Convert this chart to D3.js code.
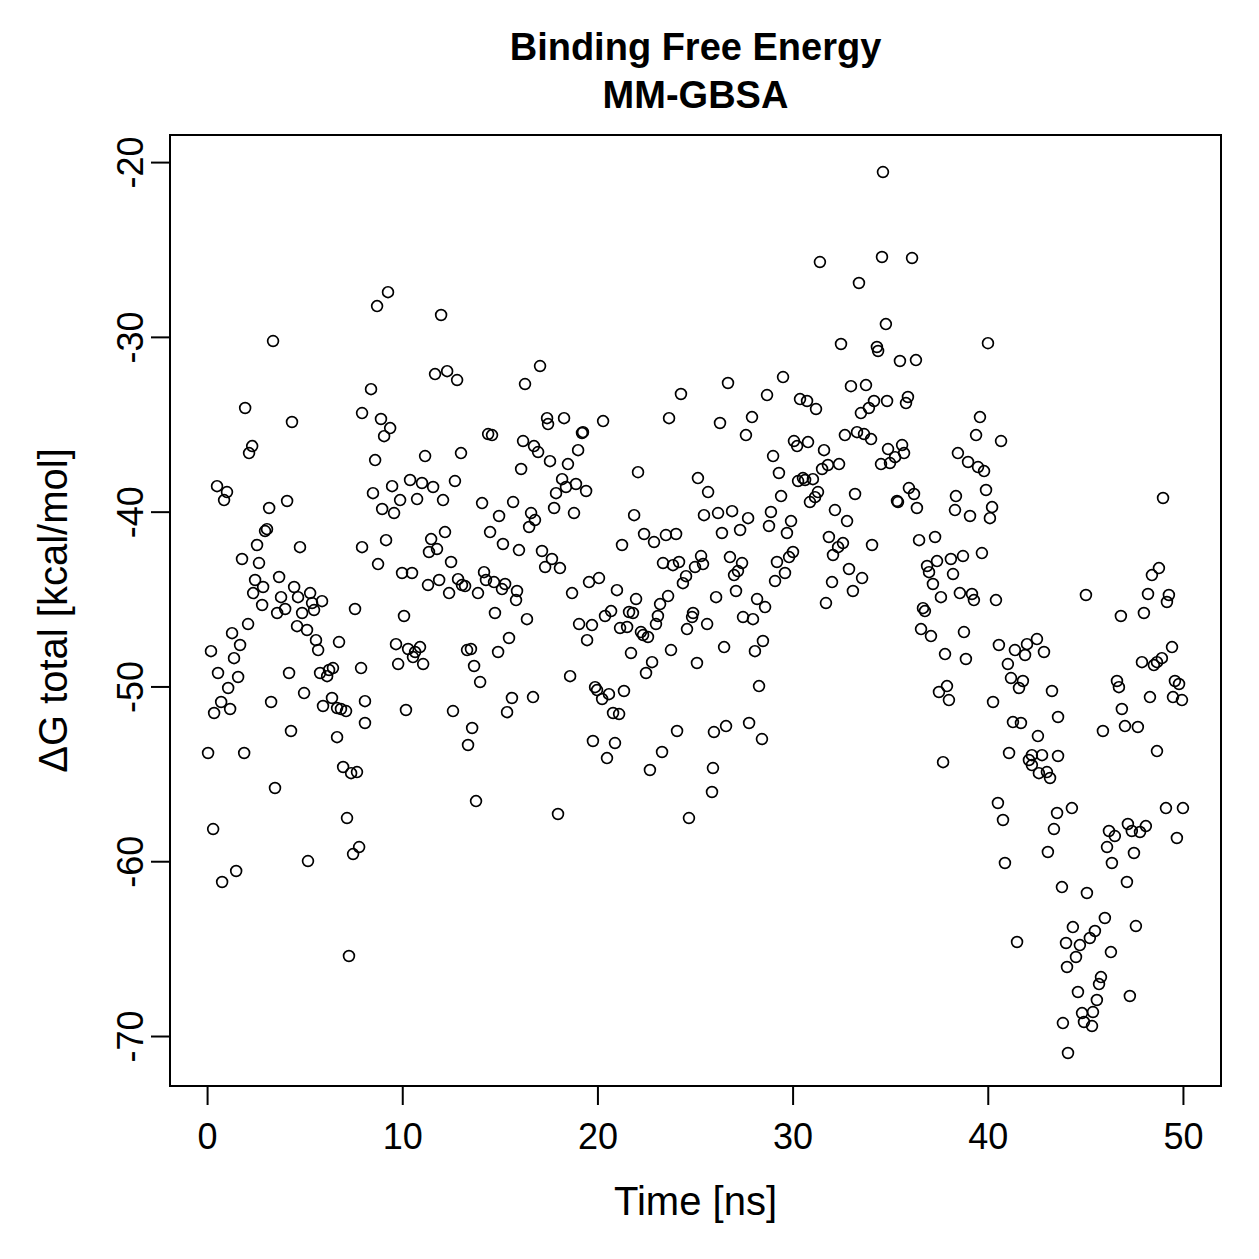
<!DOCTYPE html>
<html>
<head>
<meta charset="utf-8">
<script src="https://cdn.jsdelivr.net/npm/d3@7"></script>
<style>
  body { margin: 0; background: #fff; }
  text { font-family: "Liberation Sans", Arial, Helvetica, sans-serif; fill: #000; }
</style>
</head>
<body>
<div id="container"></div>
<script>
const canvasWidth = 1259;
const canvasHeight = 1259;

// plot box in pixels
const boxLeft = 170, boxRight = 1221, boxTop = 135, boxBottom = 1086;

// tick values
const xTicks = [0, 10, 20, 30, 40, 50];
const yTicks = [-20, -30, -40, -50, -60, -70];

// simulation time [ns]
const timeNs = [
  3.38,1.95,4.35,2.31,2.15,0.51,1.02,0.87,3.18,4.10,
  3.07,2.97,2.56,4.76,1.79,2.66,2.46,2.87,2.36,3.69,
  4.46,4.66,5.28,5.89,5.38,5.48,3.79,4.00,3.59,4.87,
  2.82,7.58,7.94,8.40,7.94,2.10,1.28,1.69,0.20,1.38,
  4.61,5.12,5.58,5.69,6.76,0.56,1.59,1.08,0.72,0.36,
  1.18,4.20,3.28,4.97,5.79,6.15,6.45,6.25,7.89,6.40,
  5.94,6.66,6.86,7.12,8.09,8.09,4.30,6.66,0.05,1.90,
  6.97,7.38,7.68,3.48,7.17,0.31,7.79,7.48,5.17,1.49,
  0.77,7.27,
  9.27,8.71,11.99,17.06,11.68,12.30,12.81,16.29,8.91,9.38,
  9.07,14.40,14.60,16.19,16.75,16.96,8.61,11.17,13.01,16.09,
  10.40,11.01,11.58,12.70,9.48,8.50,9.89,10.76,12.09,8.97,
  9.58,14.09,15.68,14.96,16.60,16.50,16.80,9.17,12.19,11.48,
  11.78,11.37,14.50,15.16,15.98,12.50,8.76,9.99,10.50,11.89,
  11.32,12.86,13.06,13.22,12.40,13.88,14.19,14.29,14.70,15.27,
  15.11,15.88,15.83,14.75,16.39,10.09,9.68,10.30,10.91,10.66,
  10.55,11.07,9.79,13.32,13.52,13.68,13.99,14.91,15.47,10.19,
  12.60,13.58,13.37,15.62,15.37,16.70,13.78,
  24.28,17.42,17.47,18.29,20.29,23.67,19.26,19.21,17.57,18.49,
  19.01,18.19,18.39,18.90,19.42,17.88,17.78,18.80,22.08,25.15,
  25.67,21.88,25.46,21.26,22.39,22.90,23.51,24.03,17.16,17.67,
  17.32,18.08,23.36,23.87,24.18,25.31,25.00,25.41,24.54,24.38,
  19.57,20.08,21.00,18.70,21.98,23.62,23.21,20.70,20.39,21.62,
  21.82,23.10,23.00,19.06,19.72,19.47,21.16,21.52,22.23,22.34,
  22.59,24.90,24.85,24.59,25.62,21.72,23.77,25.10,22.80,22.49,
  18.60,19.88,19.98,20.24,20.59,21.36,20.80,21.11,24.08,19.77,
  20.90,20.49,23.31,22.69,17.98,24.69,
  34.63,31.40,34.58,33.40,34.78,32.48,34.32,34.38,26.69,29.51,
  28.69,30.38,30.74,31.20,32.99,33.76,34.17,33.91,33.50,34.84,
  26.28,27.92,27.61,32.68,33.30,33.66,34.02,30.07,30.23,30.79,
  31.61,34.89,34.53,34.99,29.00,29.30,31.51,31.81,32.38,30.28,
  30.53,30.64,31.04,29.41,31.30,31.15,30.89,33.20,26.18,26.90,
  27.72,26.38,27.31,28.89,28.79,29.92,29.71,32.17,32.79,31.86,
  32.58,32.33,32.07,34.07,26.79,27.41,27.20,27.00,30.02,29.82,
  29.20,29.61,29.10,32.89,33.56,33.09,32.02,26.08,27.10,28.18,
  28.59,27.46,27.97,31.71,26.49,28.48,28.07,28.28,25.97,26.59,
  27.77,28.43,25.92,25.87,
  36.12,40.01,35.50,36.32,35.91,35.81,39.60,39.40,40.68,35.61,
  35.71,35.25,38.47,38.99,39.50,39.81,35.96,36.22,35.35,35.40,
  36.37,38.37,39.91,38.32,39.09,40.22,40.11,36.48,37.30,37.40,
  38.11,38.73,39.70,36.89,36.99,38.22,37.19,37.60,38.57,39.19,
  39.29,40.42,36.68,36.78,36.58,37.09,38.78,37.81,38.88,40.57,
  41.39,42.01,42.52,41.91,42.88,41.03,41.19,41.80,41.60,43.29,
  37.91,37.50,38.01,40.27,43.60,41.29,41.70,42.57,41.09,37.71,
  42.26,42.11,42.26,42.78,42.62,43.03,43.19,43.60,40.52,40.78,
  43.55,43.39,43.08,40.88,43.80,41.50,44.01,44.06,43.85,44.11,
  48.98,48.77,48.41,45.03,48.21,49.28,49.18,46.82,48.00,49.44,
  47.90,48.51,48.67,48.92,46.62,46.72,49.59,49.80,48.31,49.49,
  49.95,46.87,45.90,47.03,47.69,48.67,44.31,49.13,50.00,46.21,
  46.51,47.18,47.38,47.80,48.10,49.69,46.11,47.49,46.36,47.13,
  45.08,46.00,47.59,44.36,45.49,45.23,44.72,44.52,46.31,45.80,
  45.70,44.62,47.28,45.59,45.39,44.83,44.93,45.34
];

// ΔG total [kcal/mol], same order as timeNs
const deltaG = [
  -30.24,-34.07,-34.87,-36.25,-36.65,-38.54,-38.88,-39.34,-39.79,-39.39,
  -41.00,-41.11,-41.91,-42.03,-42.71,-42.94,-43.91,-44.31,-44.66,-43.74,
  -44.31,-44.89,-44.66,-45.12,-45.23,-45.63,-44.89,-45.57,-45.80,-45.80,
  -45.34,-45.57,-34.36,-32.99,-42.03,-46.43,-46.95,-47.63,-47.98,-48.38,
  -46.55,-46.77,-47.35,-47.92,-47.46,-49.23,-49.46,-50.09,-50.89,-51.52,
  -51.29,-49.23,-50.89,-50.38,-49.23,-49.41,-48.95,-49.06,-48.95,-50.66,
  -51.12,-51.24,-51.29,-51.41,-50.84,-52.09,-52.55,-52.90,-53.81,-53.81,
  -54.61,-54.96,-54.90,-55.81,-57.53,-58.16,-59.19,-59.59,-59.99,-60.56,
  -61.19,-65.42,
  -27.44,-28.24,-28.75,-31.67,-32.13,-31.96,-32.47,-32.70,-34.70,-35.22,
  -35.68,-35.56,-35.62,-35.96,-36.25,-36.59,-37.05,-36.82,-36.65,-37.56,
  -38.19,-38.36,-38.59,-38.25,-38.54,-38.94,-39.34,-39.28,-39.34,-39.85,
  -40.08,-39.51,-39.45,-40.25,-40.08,-40.88,-40.48,-41.63,-41.17,-41.57,
  -42.14,-42.31,-41.17,-41.85,-42.20,-42.88,-43.00,-43.51,-43.51,-43.91,
  -44.20,-43.86,-44.20,-44.26,-44.66,-44.66,-43.46,-43.91,-44.03,-44.14,
  -44.43,-44.54,-45.06,-45.80,-46.15,-45.97,-47.58,-47.86,-47.75,-48.03,
  -48.32,-48.72,-48.72,-47.92,-47.86,-48.83,-49.75,-48.03,-47.23,-51.35,
  -51.41,-52.38,-53.35,-50.66,-51.47,-50.61,-56.56,
  -33.27,-34.65,-34.99,-34.65,-34.82,-34.65,-35.45,-35.50,-37.11,-37.28,
  -36.48,-38.14,-38.59,-38.42,-38.82,-38.94,-39.79,-40.08,-37.74,-38.08,
  -38.88,-40.20,-40.20,-41.91,-41.28,-41.74,-41.34,-41.28,-42.25,-42.71,
  -43.17,-43.23,-42.94,-43.06,-42.88,-42.54,-43.17,-43.00,-43.69,-44.09,
  -44.03,-43.80,-44.49,-44.66,-45.00,-44.83,-45.29,-45.69,-45.97,-45.74,
  -45.80,-45.97,-46.43,-46.43,-46.49,-47.35,-46.66,-46.60,-46.89,-47.06,
  -47.17,-45.80,-46.03,-46.72,-46.43,-48.09,-47.92,-48.66,-48.61,-49.23,
  -49.41,-50.04,-50.21,-50.72,-50.44,-50.26,-51.52,-51.58,-52.55,-53.12,
  -53.24,-54.10,-53.75,-54.78,-57.30,-57.53,
  -20.57,-25.72,-25.43,-26.92,-29.27,-30.41,-30.58,-30.81,-32.64,-32.30,
  -33.33,-33.56,-33.67,-34.13,-32.82,-32.76,-33.67,-34.07,-34.36,-33.67,
  -34.93,-34.59,-35.62,-35.62,-35.45,-35.56,-35.85,-35.96,-36.25,-36.02,
  -36.48,-36.42,-37.28,-37.22,-36.82,-37.79,-37.56,-37.33,-37.28,-38.25,
  -38.08,-38.19,-38.14,-39.11,-38.88,-39.17,-39.45,-38.99,-40.08,-39.97,
  -40.37,-41.22,-41.05,-40.02,-40.82,-40.54,-41.22,-39.91,-40.54,-41.45,
  -41.80,-42.03,-42.48,-41.91,-42.60,-42.94,-43.40,-43.63,-42.31,-42.60,
  -42.88,-43.51,-43.97,-43.28,-43.80,-44.54,-44.03,-44.89,-44.54,-45.00,
  -45.46,-46.03,-46.15,-45.23,-47.75,-47.40,-47.98,-49.98,-52.61,-52.27,
  -52.09,-53.01,-54.67,-56.04,
  -25.49,-30.36,-31.38,-31.33,-33.44,-33.79,-34.59,-35.62,-35.96,-36.19,
  -36.65,-36.88,-36.65,-37.16,-37.45,-37.68,-38.65,-38.99,-39.39,-39.45,
  -39.79,-39.11,-38.76,-39.91,-40.25,-39.74,-40.37,-41.63,-41.45,-42.83,
  -42.71,-42.54,-42.37,-43.11,-43.46,-43.57,-44.14,-44.89,-44.66,-44.71,
  -45.06,-45.06,-45.52,-45.69,-46.72,-47.12,-46.89,-48.15,-48.43,-47.63,
  -47.92,-47.58,-47.29,-48.20,-48.03,-48.72,-49.52,-49.69,-50.09,-50.26,
  -49.98,-50.32,-50.78,-50.89,-51.75,-52.04,-52.09,-52.84,-53.81,-54.33,
  -53.93,-54.21,-54.50,-53.93,-54.96,-54.90,-55.24,-53.98,-56.67,-57.64,
  -57.24,-58.16,-59.47,-60.10,-61.48,-64.62,-64.68,-66.05,-69.26,-70.97,
  -39.22,-43.23,-43.63,-44.77,-44.71,-44.77,-45.17,-45.97,-45.80,-47.75,
  -48.61,-48.78,-48.61,-48.38,-49.69,-50.04,-49.69,-49.86,-50.61,-50.61,
  -50.78,-51.29,-52.55,-52.27,-52.32,-53.70,-56.96,-56.96,-56.96,-58.27,
  -58.56,-57.87,-58.27,-58.33,-57.99,-58.67,-59.19,-59.53,-60.10,-61.19,
  -61.82,-63.25,-63.71,-63.77,-63.99,-64.39,-64.80,-65.48,-65.20,-66.63,
  -67.03,-67.48,-67.71,-67.94,-68.63,-68.69,-69.20,-69.43
];

if (timeNs.length != deltaG.length) console.log('length mismatch', timeNs.length, deltaG.length);

let points = timeNs.map(function(t,i){ return {t:t, g:deltaG[i]}; });

let svg = d3.select('#container')
  .append('svg')
  .attr('width',canvasWidth)
  .attr('height',canvasHeight)
  .style('background','#fff');

// R style 4% padded ranges
let xScale = d3.scaleLinear().domain([-1.9,51.95]).range([boxLeft,boxRight]);
let yScale = d3.scaleLinear().domain([-18.45,-72.86]).range([boxTop,boxBottom]);

// plain hyphen like R, not the unicode minus
function plainNumber(d){ return String(d); }

// points (pch = 1)
svg.append('g')
  .selectAll('circle')
  .data(points).enter()
  .append('circle')
  .attr('cx',d=>xScale(d.t))
  .attr('cy',d=>yScale(d.g))
  .attr('r',5.4)
  .style('fill','none')
  .style('stroke','#000')
  .style('stroke-width',1.7);

// x axis
let xAxis = d3.axisBottom(xScale).tickValues(xTicks).tickSize(19).tickPadding(18).tickFormat(plainNumber);
let gx = svg.append('g').attr('transform','translate(0,'+boxBottom+')').call(xAxis);
gx.select('.domain').remove();
gx.selectAll('line').style('stroke','#000').style('stroke-width',2);
gx.selectAll('text').style('font-size','36px').attr('dy','0.71em');

// y axis, labels rotated like R's las=0
let yAxis = d3.axisLeft(yScale).tickValues(yTicks).tickSize(19).tickFormat(plainNumber);
let gy = svg.append('g').attr('transform','translate('+boxLeft+',0)').call(yAxis);
gy.select('.domain').remove();
gy.selectAll('line').style('stroke','#000').style('stroke-width',2);
gy.selectAll('text')
  .attr('x',null).attr('dy',null)
  .attr('transform',function(d){ return 'translate(-27,0) rotate(-90)'; })
  .style('text-anchor','middle')
  .style('font-size','36px');

// box
svg.append('rect')
  .attr('x',boxLeft).attr('y',boxTop)
  .attr('width',boxRight-boxLeft).attr('height',boxBottom-boxTop)
  .style('fill','none').style('stroke','#000').style('stroke-width',2);

// titles
let midX = (boxLeft+boxRight)/2;
svg.append('text').attr('x',midX).attr('y',60)
  .attr('text-anchor','middle').style('font-size','38px').style('font-weight','bold')
  .text('Binding Free Energy');
svg.append('text').attr('x',midX).attr('y',108)
  .attr('text-anchor','middle').style('font-size','38px').style('font-weight','bold')
  .text('MM-GBSA');

svg.append('text').attr('x',midX).attr('y',1215)
  .attr('text-anchor','middle').style('font-size','40px')
  .text('Time [ns]');

svg.append('text')
  .attr('transform','translate(67,'+((boxTop+boxBottom)/2)+') rotate(-90)')
  .attr('text-anchor','middle').style('font-size','40px')
  .text('ΔG total [kcal/mol]');
</script>
</body>
</html>
